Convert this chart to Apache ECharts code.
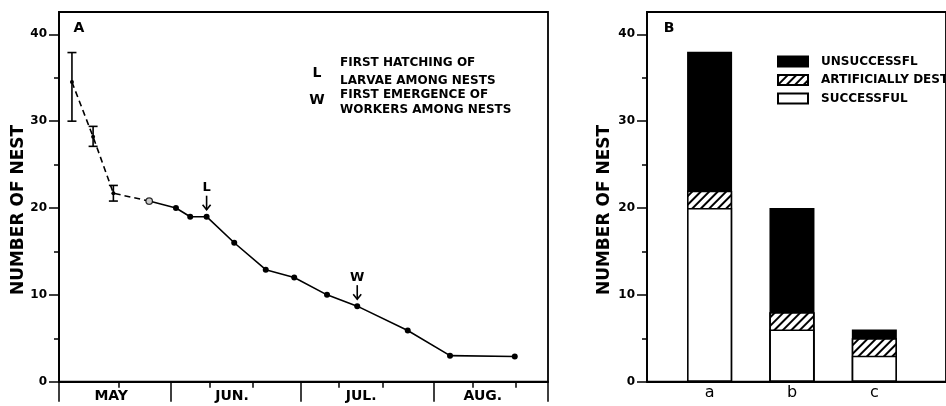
<!DOCTYPE html>
<html><head><meta charset="utf-8">
<script src="https://cdn.jsdelivr.net/npm/echarts@6/dist/echarts.min.js"></script>
<style>html,body{margin:0;padding:0;background:#fff}#c{width:946px;height:406px}</style>
</head><body><div id="c"></div>
<script>
// ---- Panel A (x = days after May 1) ----
const dashedX = [8.1, 13.0, 17.7, 26.0];
const dashedY = [34.5, 28.2, 21.7, 20.8];
const solidX = [26.0, 32.2, 35.5, 39.3, 45.7, 53.0, 59.6, 67.2, 74.2, 85.9, 95.7, 110.7];
const solidY = [20.8, 20.0, 19.0, 19.0, 16.0, 12.9, 12.0, 10.0, 8.7, 5.9, 3.0, 2.9];
const openX = [26.0];
const openY = [20.8];
const errX = [8.1, 13.0, 17.7];
const errLow = [30.0, 27.1, 20.8];
const errHigh = [37.9, 29.4, 22.6];
const markX = [39.3, 74.2];
const markY = [19.0, 8.7];
const markText = ['L', 'W'];
const monthNames = ['MAY', 'JUN.', 'JUL.', 'AUG.'];
const monthLabelX = [17.2, 45.2, 75.1, 103.3];
const monthEdgeX = [5.1, 31, 61, 92, 118.4];
const dayTickX = [19, 40, 50, 70, 80, 101, 111];
const yTicks = [0, 10, 20, 30, 40];
const yMinorTicks = [5, 15, 25, 35];
// ---- Panel B ----
const groups = ['a', 'b', 'c'];
const groupX = [1, 2, 3];
const successful = [20, 6, 3];
const artificial = [2, 2, 2];
const unsuccessful = [16, 12, 1];
const legendNames = ['UNSUCCESSFL', 'ARTIFICIALLY DEST', 'SUCCESSFUL'];

const FONT = 'DejaVu Sans';
const zip = (a, b) => a.map((v, i) => [v, b[i]]);
const nearestIdx = (arr, v) => { let bi = 0; arr.forEach((a, i) => { if (Math.abs(a - v) < Math.abs(arr[bi] - v)) bi = i; }); return bi; };
const axisLineStyle = { color: '#000', width: 1.8 };
// cumulative tops (bars drawn from zero and overlaid, topmost layer = lowest segment)
const topSucc = successful.slice();
const topArt = successful.map((v, i) => v + artificial[i]);
const topUns = topArt.map((v, i) => v + unsuccessful[i]);

function yAxesFor(grid) {
  return [{
    gridIndex: grid, type: 'value', min: 0, max: 42.57, position: 'left',
    axisLine: { show: true, lineStyle: axisLineStyle },
    axisTick: { show: true, customValues: yTicks, length: 10, lineStyle: { color: '#000', width: 1.5 } },
    axisLabel: { customValues: yTicks, margin: 12, color: '#000', fontFamily: FONT, fontWeight: 'bold', fontSize: 12 },
    splitLine: { show: false }
  }, {
    gridIndex: grid, type: 'value', min: 0, max: 42.57, position: 'left', offset: 0,
    axisLine: { show: false },
    axisTick: { show: true, customValues: yMinorTicks, length: 5, lineStyle: { color: '#000', width: 1.5 } },
    axisLabel: { show: false }, splitLine: { show: false }
  }];
}

const chart = echarts.init(document.getElementById('c'), null, { renderer: 'canvas' });
const hatchDecal = { symbol: 'rect', symbolSize: 1, dashArrayX: [1, 0], dashArrayY: [2, 4], rotation: -Math.PI / 4, color: '#000', backgroundColor: '#fff' };

chart.setOption({
  animation: false,
  backgroundColor: '#fff',
  grid: [
    { left: 59, top: 12, width: 489, height: 369.7, show: true, borderColor: '#000', borderWidth: 1.8, backgroundColor: 'transparent' },
    { left: 647, top: 12, width: 313, height: 369.7, show: true, borderColor: '#000', borderWidth: 1.8, backgroundColor: 'transparent' }
  ],
  xAxis: [
    {
      gridIndex: 0, type: 'value', min: 5.1, max: 118.4, position: 'bottom',
      axisLine: { show: true, lineStyle: axisLineStyle },
      axisTick: { show: true, customValues: monthEdgeX, length: 20, lineStyle: { color: '#000', width: 1.5 } },
      axisLabel: { customValues: monthLabelX, formatter: v => monthNames[nearestIdx(monthLabelX, v)], margin: 8, color: '#000', fontFamily: FONT, fontWeight: 'bold', fontSize: 14 },
      splitLine: { show: false }
    },
    {
      gridIndex: 0, type: 'value', min: 5.1, max: 118.4, position: 'bottom', offset: 0,
      axisLine: { show: false },
      axisTick: { show: true, customValues: dayTickX, length: 6, lineStyle: { color: '#000', width: 1.5 } },
      axisLabel: { show: false }, splitLine: { show: false }
    },
    {
      gridIndex: 1, type: 'value', min: 0.24, max: 3.87, position: 'bottom',
      axisLine: { show: true, lineStyle: axisLineStyle },
      axisTick: { show: false },
      axisLabel: { customValues: groupX, formatter: v => groups[nearestIdx(groupX, v)], margin: 3, color: '#000', fontFamily: FONT, fontSize: 16 },
      splitLine: { show: false }
    }
  ],
  yAxis: [...yAxesFor(0), ...yAxesFor(1)],
  legend: {
    data: legendNames, orient: 'vertical', left: 777, top: 55.5, padding: 0,
    itemWidth: 30, itemHeight: 10, itemGap: 6.5, icon: 'rect', selectedMode: false,
    textStyle: { color: '#000', fontFamily: FONT, fontWeight: 'bold', fontSize: 12, padding: [0, 0, 0, 8] }
  },
  graphic: [
    { type: 'text', x: 79, y: 28, style: { text: 'A', font: 'bold 14px "DejaVu Sans"', fill: '#000', align: 'center', verticalAlign: 'middle' } },
    { type: 'text', x: 669, y: 28, style: { text: 'B', font: 'bold 14px "DejaVu Sans"', fill: '#000', align: 'center', verticalAlign: 'middle' } },
    { type: 'text', x: 19, y: 210, rotation: Math.PI / 2, style: { text: 'NUMBER OF NEST', font: 'bold 17px "DejaVu Sans"', fill: '#000', align: 'center', verticalAlign: 'middle' } },
    { type: 'text', x: 605, y: 210, rotation: Math.PI / 2, style: { text: 'NUMBER OF NEST', font: 'bold 17px "DejaVu Sans"', fill: '#000', align: 'center', verticalAlign: 'middle' } },
    { type: 'text', x: 317, y: 73, style: { text: 'L', font: 'bold 14px "DejaVu Sans"', fill: '#000', align: 'center', verticalAlign: 'middle' } },
    { type: 'text', x: 317, y: 100.5, style: { text: 'W', font: 'bold 14px "DejaVu Sans"', fill: '#000', align: 'center', verticalAlign: 'middle' } },
    { type: 'text', x: 340, y: 63.3, style: { text: 'FIRST HATCHING OF', font: 'bold 12px "DejaVu Sans"', fill: '#000', align: 'left', verticalAlign: 'middle' } },
    { type: 'text', x: 340, y: 81.3, style: { text: 'LARVAE AMONG NESTS', font: 'bold 12px "DejaVu Sans"', fill: '#000', align: 'left', verticalAlign: 'middle' } },
    { type: 'text', x: 340, y: 95, style: { text: 'FIRST EMERGENCE OF', font: 'bold 12px "DejaVu Sans"', fill: '#000', align: 'left', verticalAlign: 'middle' } },
    { type: 'text', x: 340, y: 109.7, style: { text: 'WORKERS AMONG NESTS', font: 'bold 12px "DejaVu Sans"', fill: '#000', align: 'left', verticalAlign: 'middle' } }
  ],
  series: [
    {
      type: 'line', xAxisIndex: 0, yAxisIndex: 0, data: zip(dashedX, dashedY),
      lineStyle: { color: '#000', width: 1.6, type: [6, 4] },
      symbol: 'circle', symbolSize: 4, itemStyle: { color: '#000' }, z: 3
    },
    {
      type: 'line', xAxisIndex: 0, yAxisIndex: 0, data: zip(solidX, solidY),
      lineStyle: { color: '#000', width: 1.6 },
      symbol: 'circle', symbolSize: 6, itemStyle: { color: '#000' }, z: 4
    },
    {
      type: 'scatter', xAxisIndex: 0, yAxisIndex: 0, data: zip(openX, openY),
      symbol: 'circle', symbolSize: 6.5,
      itemStyle: { color: '#fff', borderColor: '#000', borderWidth: 1.3 }, z: 6
    },
    {
      type: 'custom', xAxisIndex: 0, yAxisIndex: 0,
      data: errX.map((x, i) => [x, errLow[i], errHigh[i]]),
      encode: { x: 0, y: [1, 2] },
      renderItem: (params, api) => {
        const x = api.value(0);
        const lo = api.coord([x, api.value(1)]);
        const hi = api.coord([x, api.value(2)]);
        const w = 4.5, st = { stroke: '#000', lineWidth: 1.6 };
        return { type: 'group', children: [
          { type: 'line', shape: { x1: lo[0], y1: lo[1], x2: hi[0], y2: hi[1] }, style: st },
          { type: 'line', shape: { x1: lo[0] - w, y1: lo[1], x2: lo[0] + w, y2: lo[1] }, style: st },
          { type: 'line', shape: { x1: hi[0] - w, y1: hi[1], x2: hi[0] + w, y2: hi[1] }, style: st }
        ] };
      }, z: 5
    },
    {
      type: 'custom', xAxisIndex: 0, yAxisIndex: 0,
      data: markX.map((x, i) => [x, markY[i], markText[i]]),
      encode: { x: 0, y: 1 },
      renderItem: (params, api) => {
        const p = api.coord([api.value(0), api.value(1)]);
        const txt = markText[params.dataIndex];
        const st = { stroke: '#000', lineWidth: 1.6 };
        const tip = p[1] - 7, top = p[1] - 21;
        return { type: 'group', children: [
          { type: 'line', shape: { x1: p[0], y1: top, x2: p[0], y2: tip }, style: st },
          { type: 'polyline', shape: { points: [[p[0] - 4, tip - 5], [p[0], tip], [p[0] + 4, tip - 5]] }, style: { stroke: '#000', lineWidth: 1.6, fill: null } },
          { type: 'text', x: p[0], y: p[1] - 29, style: { text: txt, font: 'bold 13px "DejaVu Sans"', fill: '#000', align: 'center', verticalAlign: 'middle' } }
        ] };
      }, z: 5
    },
    {
      name: 'UNSUCCESSFL', type: 'bar', xAxisIndex: 2, yAxisIndex: 2, barWidth: 45, barGap: '-100%',
      data: zip(groupX, topUns),
      itemStyle: { color: '#000', borderColor: '#000', borderWidth: 1.5 }, z: 2
    },
    {
      name: 'ARTIFICIALLY DEST', type: 'bar', xAxisIndex: 2, yAxisIndex: 2, barWidth: 45, barGap: '-100%',
      data: zip(groupX, topArt),
      itemStyle: { color: '#fff', borderColor: '#000', borderWidth: 1.5, decal: hatchDecal }, z: 3
    },
    {
      name: 'SUCCESSFUL', type: 'bar', xAxisIndex: 2, yAxisIndex: 2, barWidth: 45, barGap: '-100%',
      data: zip(groupX, topSucc),
      itemStyle: { color: '#fff', borderColor: '#000', borderWidth: 1.5 }, z: 4
    }
  ]
});
</script></body></html>
